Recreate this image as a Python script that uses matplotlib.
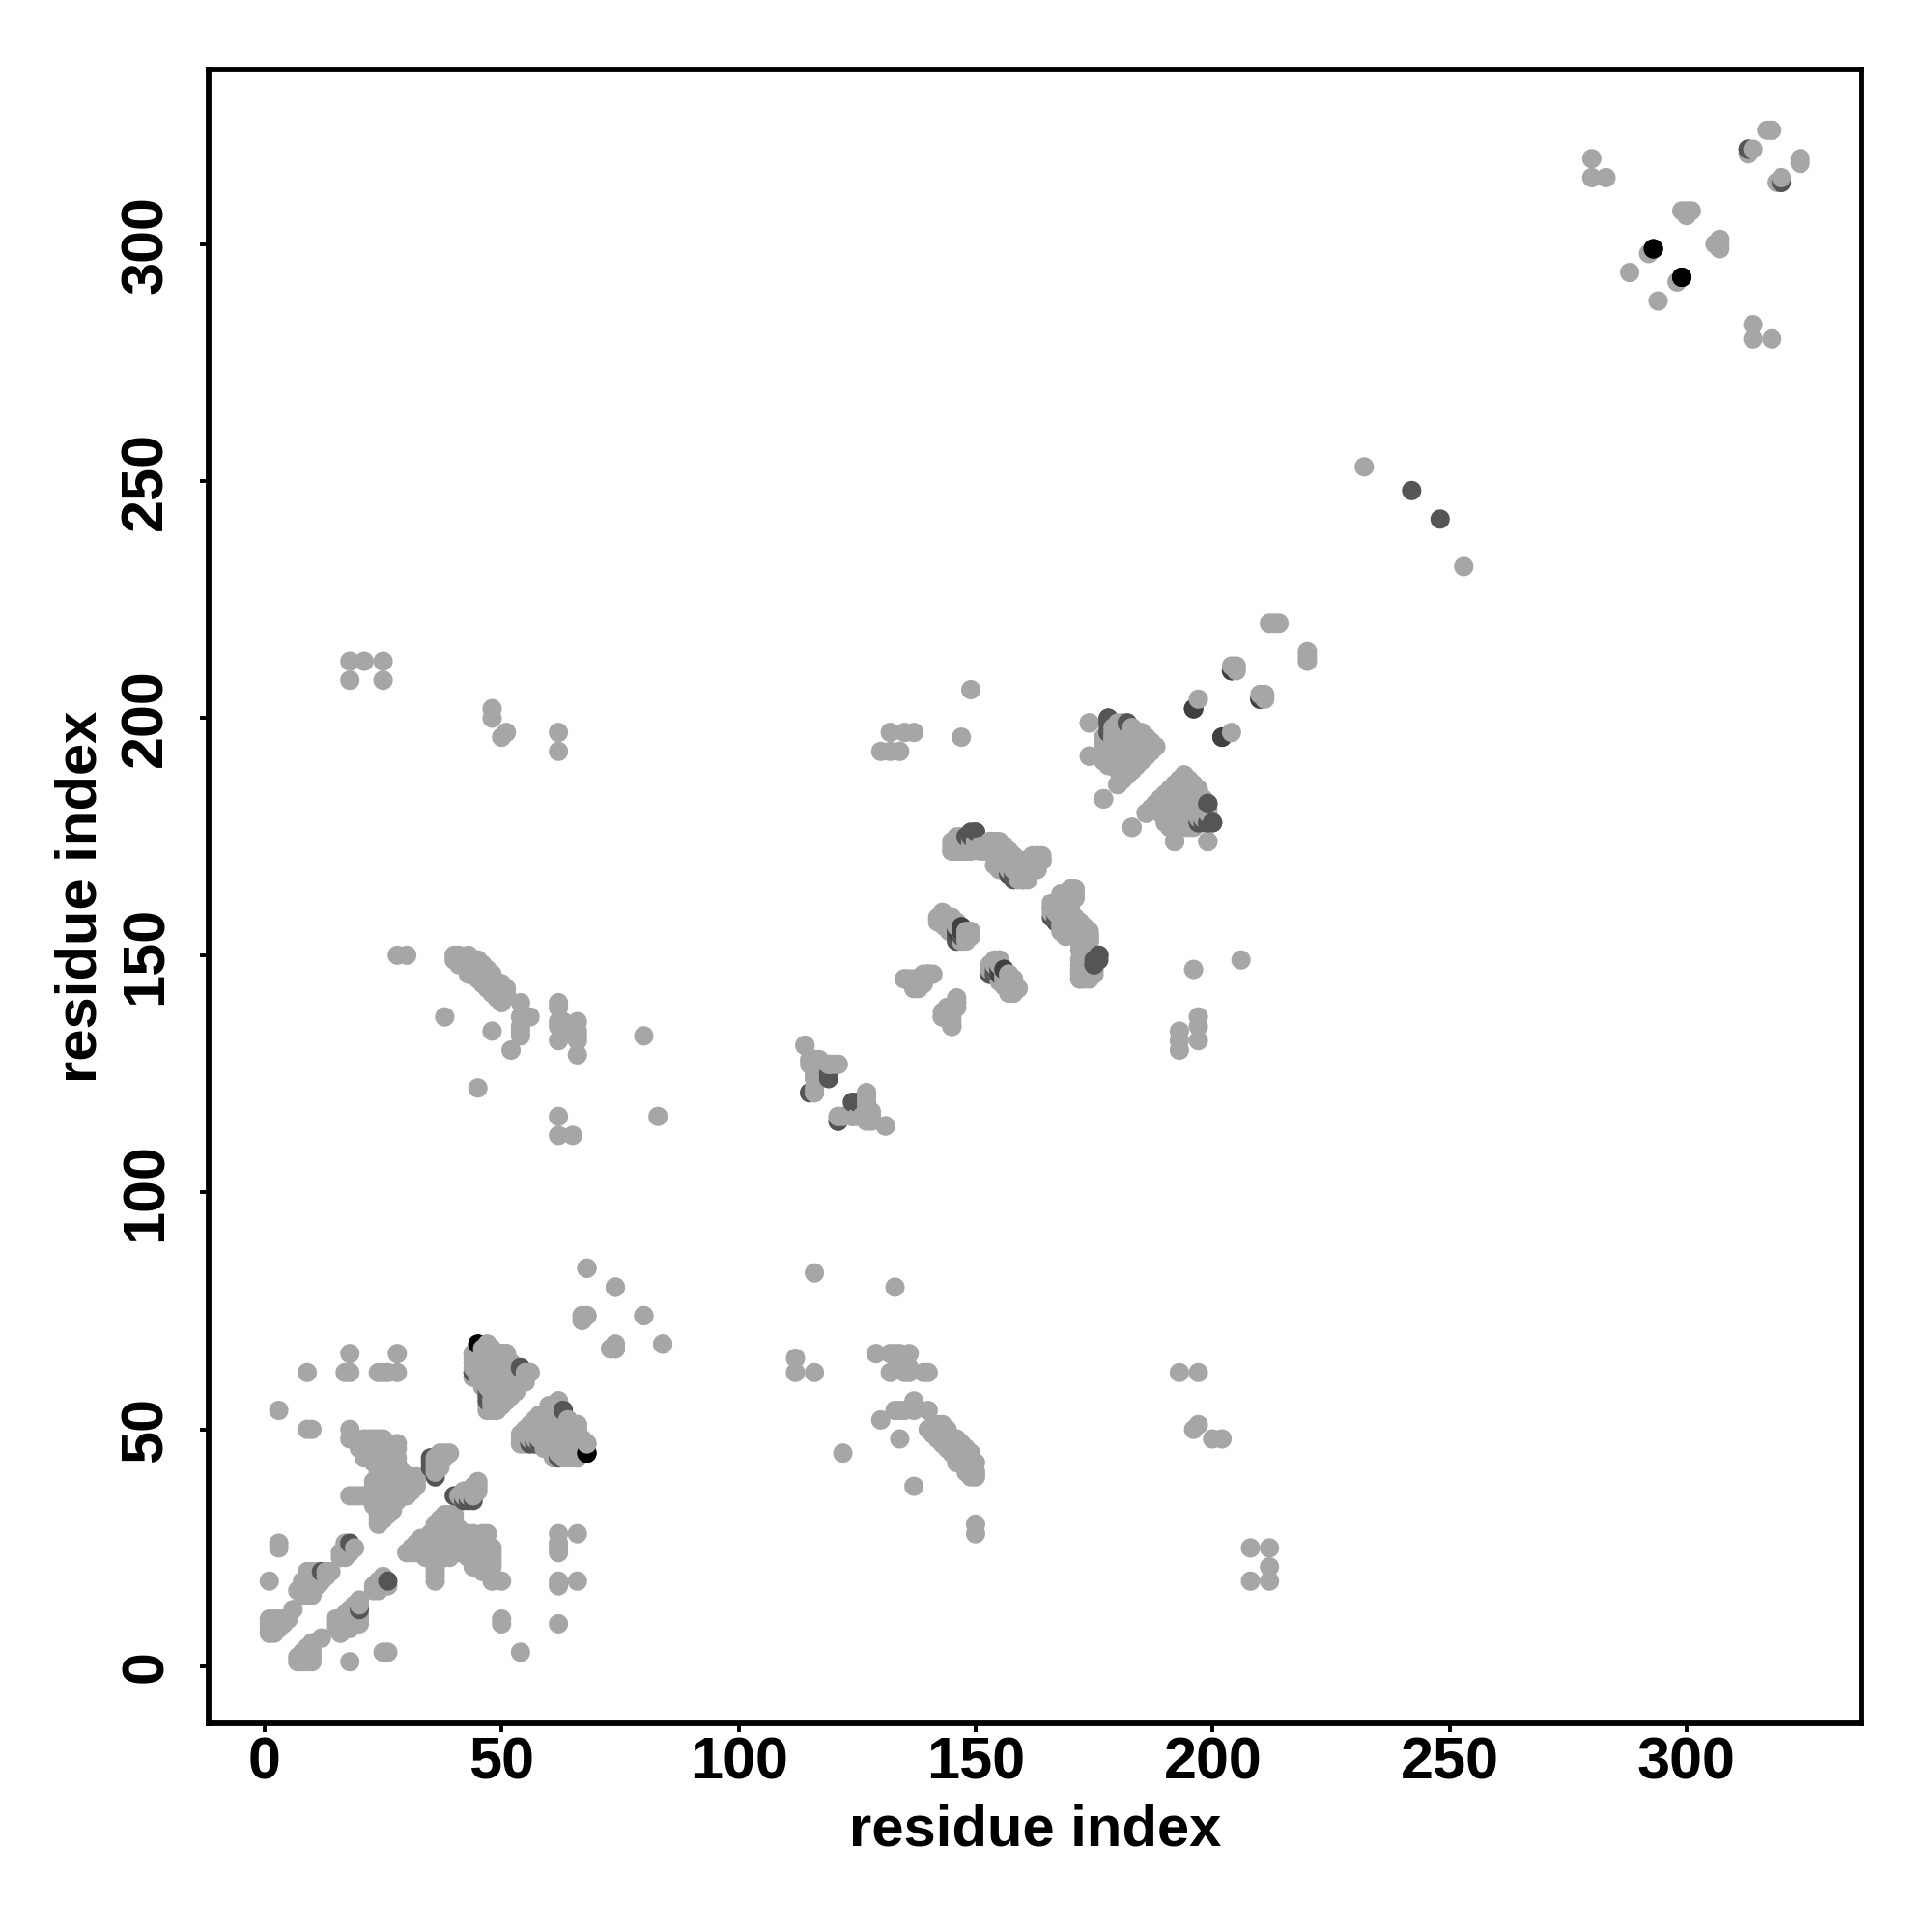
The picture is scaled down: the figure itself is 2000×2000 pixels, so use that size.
import matplotlib
matplotlib.use('Agg')
import matplotlib.pyplot as plt

# contacts above the diagonal, written as {residue j: [residues i]}, mirrored when drawn
corner_a = {10: [1, 2, 3, 4, 5], 9: [1, 2, 3, 4], 8: [1, 2, 3], 7: [1, 2], 12: [6],
            20: [9, 10, 11, 13, 14], 19: [9, 10, 11, 12, 13], 18: [1, 8, 9, 10, 11, 12],
            17: [8, 9, 10, 11], 16: [7, 8, 9, 10], 15: [8, 9, 10],
            26: [3, 17], 25: [3, 17, 19], 24: [16, 17, 18], 23: [16, 17]}
blob_a = {50: [9, 10, 18], 48: [18, 21, 22, 23, 24, 25],
          47: [20, 21, 22, 23, 24, 25, 26, 28], 46: [20, 21, 22, 23, 24, 25, 26, 27, 28],
          45: [21, 22, 23, 24, 25, 26, 27], 44: [21, 22, 23, 24, 25, 26, 27, 28],
          43: [23, 24, 25, 26, 27, 28], 42: [24, 25, 26, 27, 28],
          41: [24, 25, 26, 27, 28, 29], 40: [24, 25, 26, 27, 28, 29, 30, 31, 32],
          39: [23, 24, 25, 26, 27, 28, 29, 30, 31, 32], 38: [23, 24, 25, 26, 27, 28, 29, 30, 31, 32],
          37: [23, 24, 25, 26, 27, 28, 29, 30, 31], 36: [18, 19, 20, 21, 22, 23, 24, 25, 26, 27, 28, 29, 30],
          35: [23, 24, 25, 26, 27, 28], 34: [23, 24, 25, 26, 27], 33: [24, 25, 26, 27],
          32: [24, 25, 26], 31: [24, 25], 30: [24]}
spur_a = {45: [37, 38, 39], 44: [36, 37, 38], 43: [36, 37], 42: [36, 37], 41: [36]}
block_b = {68: [47], 67: [48], 66: [44, 45, 46, 47, 48, 50, 51], 65: [44, 45, 46, 47, 48, 49, 50, 51],
           64: [46, 47, 48, 49, 50, 52], 63: [45, 46, 47, 48, 49, 50, 51], 62: [45, 46, 47, 48, 49, 50, 51, 52, 53, 56],
           61: [44, 45, 46, 47, 48, 49, 50, 51, 52, 53, 55], 60: [46, 47, 48, 49, 50, 51, 52, 53, 54],
           59: [47, 48, 49, 50, 51, 52, 53], 58: [47, 48, 49, 50, 51, 52, 53], 57: [48, 49, 50, 51, 52],
           56: [48, 49, 50, 51], 55: [47, 48, 49, 50], 54: [47, 48, 49]}
block_c = {56: [62], 55: [60, 61, 62], 54: [60, 61, 62], 53: [58, 59, 60, 61, 62],
           52: [58, 59, 60, 61, 62, 63, 64], 51: [57, 58, 59, 60, 61, 62, 63, 64, 65, 66],
           50: [56, 57, 58, 59, 60, 61, 62, 63, 64, 65, 66], 49: [55, 56, 57, 58, 59, 60, 61, 62, 63, 64, 65, 66],
           48: [55, 56, 58, 59, 60, 61, 62, 63, 64], 47: [54, 55, 59, 60, 61, 62, 63, 64, 65, 68],
           46: [59, 60, 61, 62, 63, 64, 65, 66, 67], 45: [61, 62, 63, 64, 65, 66], 44: [61, 63, 64, 66]}
far_a = {84: [68], 80: [74], 74: [67, 68, 80], 73: [67], 68: [74, 84], 67: [73, 74],
         212: [18, 21, 25], 208: [18, 25], 202: [48], 200: [48], 196: [50], 197: [51, 62], 193: [62],
         150: [28, 30, 40, 41, 43], 137: [38, 54, 56], 134: [48, 54, 63, 66], 130: [52], 122: [45],
         116: [62, 83], 112: [62, 65], 133: [54, 66, 80], 140: [54, 62], 139: [62], 136: [62, 63, 66],
         135: [54, 62, 63], 132: [62, 66], 129: [66]}
far_c = {66: [18, 28], 62: [9, 17, 18, 24, 25, 26, 28], 54: [3]}
streak_a = {149: [40, 42, 43, 44, 45], 148: [41, 42, 43, 44, 45, 46], 147: [43, 44, 45, 46, 47],
            146: [43, 45, 46, 47, 48], 145: [45, 46, 47, 48], 144: [46, 47, 48, 49, 50],
            143: [47, 48, 49, 50, 51], 142: [48, 49, 50, 51], 141: [49, 50], 140: [50]}
mid_a = {131: [114], 128: [116, 117], 127: [116, 117, 119, 121], 126: [116], 124: [116],
         122: [116], 121: [116, 127], 120: [127], 119: [127], 118: [127], 116: [121, 124, 125, 127, 128],
         115: [127, 128], 114: [131]}
mid_b = {159: [143], 158: [143, 144, 145], 157: [144, 145, 146], 156: [145, 146], 155: [146, 147, 148, 149],
         154: [148], 153: [147], 146: [140, 141, 157], 145: [135, 136, 139], 144: [139], 143: [137, 138],
         149: [154, 155], 148: [153, 154, 155], 147: [153, 154, 155], 145.5: [156], 144.5: [155, 156, 157],
         143.5: [156, 157, 158], 142: [157, 158], 140: [146], 139: [145, 146], 138: [145], 137: [143, 145], 135: [145]}
mid_c = {174: [145, 153, 154], 173: [146, 147, 153, 154, 155], 172: [145, 146, 147, 148, 149, 155, 156, 157],
         171: [154, 155, 156, 157, 162, 163], 170: [155, 156, 157, 158, 161, 162, 163, 164],
         169: [154, 155, 156, 158, 159, 160, 162, 163], 168: [155, 156, 158, 159, 160, 161, 162, 163],
         167: [159, 160, 161], 166: [160, 161]}
mid_d = {164: [170, 171], 163: [169, 170, 171], 162: [168, 169, 170], 161: [167, 168, 169, 170],
         160: [166, 167, 168, 169, 170], 159: [166, 167, 168, 169, 170], 158: [167, 168, 169, 170, 171],
         157: [168, 169, 170, 171, 172], 156: [169, 170, 171, 172, 173], 155: [170, 171, 172, 173, 174],
         154: [171, 172, 173, 174], 153: [172, 173, 174], 152: [172, 173], 151: [172, 173],
         150: [173, 174], 149: [172, 173, 174], 148: [172, 173, 174], 147: [172, 173, 174, 175],
         146: [172, 173, 174, 175], 145: [172, 173]}
block_d = {199: [174, 180, 181], 198: [180, 183], 197: [180, 181, 182, 183, 184, 132, 135, 137],
           196: [179, 180, 181, 182, 183, 184, 185, 186, 147], 195: [179, 180, 181, 182, 183, 184, 185, 186, 187],
           194: [178, 179, 180, 181, 182, 183, 184, 185, 186, 187, 188], 193: [178, 179, 180, 181, 182, 183, 184, 185, 186, 187, 130, 132, 134],
           192: [174, 176, 178, 179, 180, 181, 182, 183, 184, 185, 186], 191: [177, 178, 179, 180, 181, 182, 183, 184, 185],
           190: [179, 180, 181, 182, 183, 184], 189: [180, 181, 182, 183], 188: [181, 182],
           187: [181], 186: [180], 183: [177], 206: [149]}
block_e = {188: [194], 187: [193, 194, 195], 186: [192, 193, 194, 195, 196], 185: [192, 193, 194, 195, 196, 197],
           184: [191, 192, 193, 194, 195, 196, 197], 183: [189, 190, 191, 192, 193, 194, 195, 196, 197, 198],
           182: [188, 189, 190, 191, 192, 193, 194, 195, 196, 197, 198], 181: [190, 191, 192, 193, 194, 195, 196, 197, 198],
           180: [186, 190, 191, 192, 193, 194, 195, 196, 197, 198], 179: [190, 191, 192, 193, 194, 195, 196, 197, 198],
           178: [190, 191, 192, 193, 194, 195, 196], 177: [183, 191, 192, 193, 194, 195, 196], 174: [192, 199]}
far_b = {204: [197], 211: [204, 205], 210: [205], 220: [212, 213, 214],
         253: [232], 318: [280], 314: [280, 283], 298: [292],
         294: [288], 307: [299, 300, 301], 306: [300],
         320: [314], 319: [313], 324: [317, 318]}

dark_pairs = [(35, 44), (35, 43), (35, 42), (36, 40), (18, 26), (12, 20), (44, 62), (54, 63), (47, 57), (47, 56),
              (63, 54), (57, 47), (56, 47), (58, 47), (62, 44), (119, 125), (115, 121), (124, 119),
              (121, 115), (149, 176), (150, 176), (148, 175), (157, 167), (158, 167), (166, 158), (167, 157),
              (176, 150), (175, 149), (175, 148), (147, 156), (146, 154), (147, 154), (146, 153),
              (155, 147), (153, 146), (154, 146), (155, 146), (178, 200), (178, 199), (178, 197), (182, 199),
              (199, 182), (200, 178), (199, 178), (197, 178), (198, 178), (242, 248), (313, 320), (320, 313)]
deep_pairs = [(196, 202), (202, 196), (204, 210), (210, 204), (147, 155), (146, 155), (156, 147)]
black_pairs = [(45, 68), (68, 45), (293, 299), (299, 293)]

light_blocks = [corner_a, blob_a, spur_a, block_b, block_c, far_a, far_c, streak_a, mid_a, mid_b, mid_c,
                mid_d, block_d, block_e, far_b]

light_color = '#a6a6a6'
dark_color = '#555555'
deep_color = '#404040'
black_color = '#000000'

points = []
for block in light_blocks:
    for j, row in block.items():
        for i in row:
            points.append((i, j, light_color))
            points.append((j, i, light_color))
for pairs, color in [(dark_pairs, dark_color), (deep_pairs, deep_color), (black_pairs, black_color)]:
    for i, j in pairs:
        points.append((i, j, color))
        points.append((j, i, color))

# residues were plotted in order, so later x sits on top
points.sort(key=lambda p: (p[0], p[1]))
xs = [p[0] for p in points]
ys = [p[1] for p in points]
colors = [p[2] for p in points]

plt.rcParams['font.family'] = ['Liberation Sans', 'DejaVu Sans']
plt.rcParams['font.weight'] = 'bold'

fig = plt.figure(figsize=(10, 10), dpi=200)
ax = fig.add_axes([0.108, 0.108, 0.8555, 0.856])
ax.scatter(xs, ys, s=52, c=colors, linewidths=0)
ax.set_xlim(-11.8, 336.9)
ax.set_ylim(-12, 336.8)
ax.set_xticks([0, 50, 100, 150, 200, 250, 300])
ax.set_yticks([0, 50, 100, 150, 200, 250, 300])
ax.tick_params(axis='x', length=3.2, width=1.4, labelsize=22, pad=1.5)
ax.tick_params(axis='y', length=3.2, width=1.4, labelsize=22, pad=9.5)
for label in ax.get_yticklabels():
    label.set_rotation(90)
    label.set_va('center')
for spine in ax.spines.values():
    spine.set_linewidth(2.1)
ax.set_xlabel('residue index', fontsize=21.5, fontweight='bold', labelpad=5)
ax.set_ylabel('residue index', fontsize=21.5, fontweight='bold', labelpad=4.5)

fig.savefig('out.png', dpi=200)
